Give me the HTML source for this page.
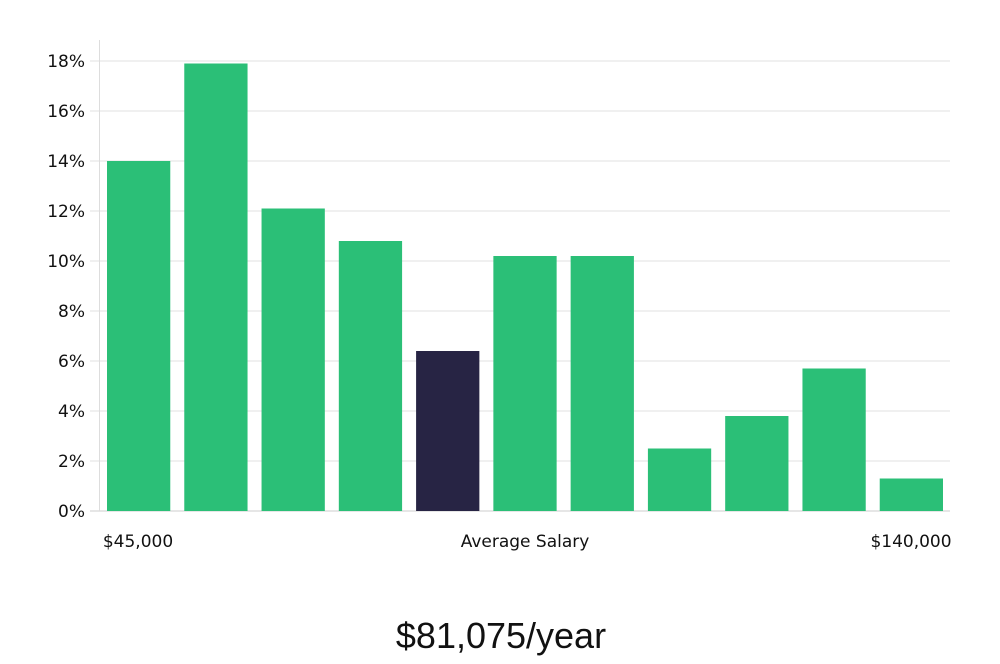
<!DOCTYPE html>
<html><head><meta charset="utf-8"><style>
body{margin:0;background:#fff;font-family:"DejaVu Sans","Liberation Sans",sans-serif;}
#wrap{position:relative;width:1000px;height:660px;}
</style></head><body>
<div id="wrap">
<svg id="chart" width="1000" height="660"></svg>
</div>
<script>
const categories=["b1","b2","b3","b4","b5","b6","b7","b8","b9","b10","b11"];
const values=[14.0,17.9,12.1,10.8,6.4,10.2,10.2,2.5,3.8,5.7,1.3];
const highlight=[false,false,false,false,true,false,false,false,false,false,false];
const yTicks=[0,2,4,6,8,10,12,14,16,18];
const xLabels=["$45,000","Average Salary","$140,000"];
const salaryText="$81,075/year";
const NS="http://www.w3.org/2000/svg";
const svg=document.getElementById('chart');
const x0=100,x1=950,yBase=511,yTop=61,yMax=18;
const y=v=>yBase-(v/yMax)*(yBase-yTop);
const pitch=(x1-x0)/categories.length;
function mk(t,a){const e=document.createElementNS(NS,t);for(const k in a)e.setAttribute(k,a[k]);svg.appendChild(e);return e;}
yTicks.forEach(t=>{
 const g=mk('line',{x1:90,x2:x1,y1:y(t),y2:y(t),stroke:t===0?'#ccc':'#e0e0e0','stroke-width':1});
 
 
 const l=mk('text',{x:85,y:y(t)+6,'text-anchor':'end','font-size':17,fill:'#111'});
 l.textContent=t+'%';
 
 
});
const ax=mk('line',{x1:99.5,x2:99.5,y1:40,y2:yBase,stroke:'#ddd'});


values.forEach((v,i)=>{
 const bx=x0+i*pitch+7;
 const r=mk('rect',{x:bx,y:y(v),width:pitch-14,height:yBase-y(v),fill:highlight[i]?'#272444':'#2bbf77'});
 
 
});
const xs=[[138,'middle'],[525,'middle'],[911,'middle']];
xLabels.forEach((s,i)=>{
 const t=mk('text',{x:xs[i][0],y:547,'text-anchor':xs[i][1],'font-size':17,fill:'#111'});
 t.textContent=s;
 
 
});
const st=mk('text',{x:501,y:648,'text-anchor':'middle','font-size':36,fill:'#111','font-family':'"Liberation Sans",sans-serif'});
st.textContent=salaryText;


</script>
</body></html>
